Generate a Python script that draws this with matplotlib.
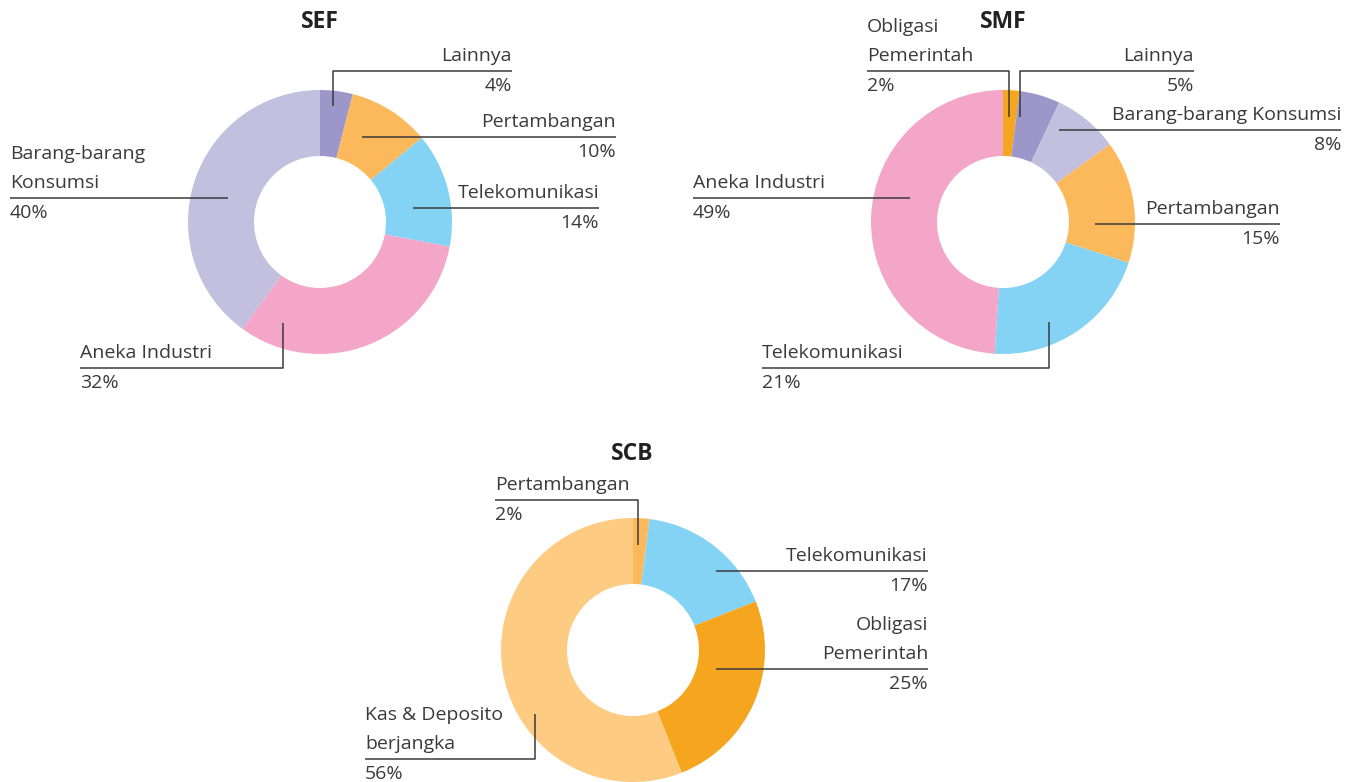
import matplotlib
matplotlib.use("Agg")
import matplotlib.pyplot as plt

# ---------------- data ----------------
sef_labels = ["Lainnya", "Pertambangan", "Telekomunikasi", "Aneka Industri", "Barang-barang\nKonsumsi"]
sef_values = [4, 10, 14, 32, 40]

smf_labels = ["Obligasi\nPemerintah", "Lainnya", "Barang-barang Konsumsi", "Pertambangan",
              "Telekomunikasi", "Aneka Industri"]
smf_values = [2, 5, 8, 15, 21, 49]

scb_labels = ["Pertambangan", "Telekomunikasi", "Obligasi\nPemerintah", "Kas & Deposito\nberjangka"]
scb_values = [2, 17, 25, 56]

titles = ["SEF", "SMF", "SCB"]

# ---------------- styles ----------------
C_LAIN = "#9d97c9"
C_PERT = "#fbb95b"
C_TELE = "#84d3f5"
C_ANEKA = "#f4a6c9"
C_BARANG = "#c3bfdf"
C_OBLIG = "#f6a51f"
C_KAS = "#fdcb82"

sef_colors = [C_LAIN, C_PERT, C_TELE, C_ANEKA, C_BARANG]
smf_colors = [C_OBLIG, C_LAIN, C_BARANG, C_PERT, C_TELE, C_ANEKA]
scb_colors = [C_PERT, C_TELE, C_OBLIG, C_KAS]

W, H = 1346, 782
FONT = ["Open Sans", "DejaVu Sans"]
TXT = "#3a3a3a"
LINE = "#3a3a3a"
FS = 14.0
LH = 29  # line height px

fig = plt.figure(figsize=(W / 100, H / 100), dpi=100)
ax = fig.add_axes([0, 0, 1, 1])


def Y(y):
    return H - y


def donut(values, colors, cx, cy, r=132):
    ax.pie(values, colors=colors, center=(cx, Y(cy)), radius=r, startangle=90,
           counterclock=False, wedgeprops=dict(width=r * 0.5, linewidth=0),
           frame=True)


def label(text, pct, side, x_text, line_y, pts):
    """pts: leader polyline in image pixels (ending at the label line)."""
    xs = [p[0] for p in pts]
    ys = [Y(p[1]) for p in pts]
    ax.plot(xs, ys, color=LINE, lw=1.1, solid_capstyle="butt")
    ha = "left" if side == "left" else "right"
    lines = text.split("\n")
    n = len(lines)
    for i, t in enumerate(lines):
        yc = line_y - 15 - (n - 1 - i) * LH
        ax.text(x_text, Y(yc), t, ha=ha, va="center", fontsize=FS, color=TXT,
                family=FONT, fontweight="normal")
    ax.text(x_text, Y(line_y + 15), pct, ha=ha, va="center", fontsize=FS, color=TXT,
            family=FONT, fontweight="normal")


def pct(v):
    return f"{v}%"


# ---------------- SEF ----------------
donut(sef_values, sef_colors, 320, 222)
ax.text(320, Y(22), titles[0], ha="center", va="center", fontsize=16.5, fontweight="bold",
        color="#222222", family=FONT)
label(sef_labels[0], pct(sef_values[0]), "right", 512, 71, [(333, 106), (333, 71), (512, 71)])
label(sef_labels[1], pct(sef_values[1]), "right", 616, 137, [(362, 137), (616, 137)])
label(sef_labels[2], pct(sef_values[2]), "right", 599, 208, [(413, 208), (599, 208)])
label(sef_labels[3], pct(sef_values[3]), "left", 80, 368, [(283, 323), (283, 368), (80, 368)])
label(sef_labels[4], pct(sef_values[4]), "left", 10, 198, [(228, 198), (10, 198)])

# ---------------- SMF ----------------
donut(smf_values, smf_colors, 1003, 222)
ax.text(1003, Y(22), titles[1], ha="center", va="center", fontsize=16.5, fontweight="bold",
        color="#222222", family=FONT)
label(smf_labels[0], pct(smf_values[0]), "left", 867, 71, [(1009, 117), (1009, 71), (867, 71)])
label(smf_labels[1], pct(smf_values[1]), "right", 1194, 71, [(1020, 117), (1020, 71), (1194, 71)])
label(smf_labels[2], pct(smf_values[2]), "right", 1341, 130, [(1059, 130), (1341, 130)])
label(smf_labels[3], pct(smf_values[3]), "right", 1280, 224, [(1095, 224), (1280, 224)])
label(smf_labels[4], pct(smf_values[4]), "left", 762, 368, [(1049, 322), (1049, 368), (762, 368)])
label(smf_labels[5], pct(smf_values[5]), "left", 693, 198, [(910, 198), (693, 198)])

# ---------------- SCB ----------------
donut(scb_values, scb_colors, 633, 650)
ax.text(632, Y(454), titles[2], ha="center", va="center", fontsize=16.5, fontweight="bold",
        color="#222222", family=FONT)
label(scb_labels[0], pct(scb_values[0]), "left", 495, 500, [(638, 545), (638, 500), (495, 500)])
label(scb_labels[1], pct(scb_values[1]), "right", 928, 571, [(716, 571), (928, 571)])
label(scb_labels[2], pct(scb_values[2]), "right", 928, 669, [(716, 669), (928, 669)])
label(scb_labels[3], pct(scb_values[3]), "left", 365, 759, [(535, 714), (535, 759), (365, 759)])

ax.set_xlim(0, W)
ax.set_ylim(0, H)
ax.set_aspect("auto")
ax.axis("off")

fig.savefig("out.png", dpi=100, facecolor="white")
